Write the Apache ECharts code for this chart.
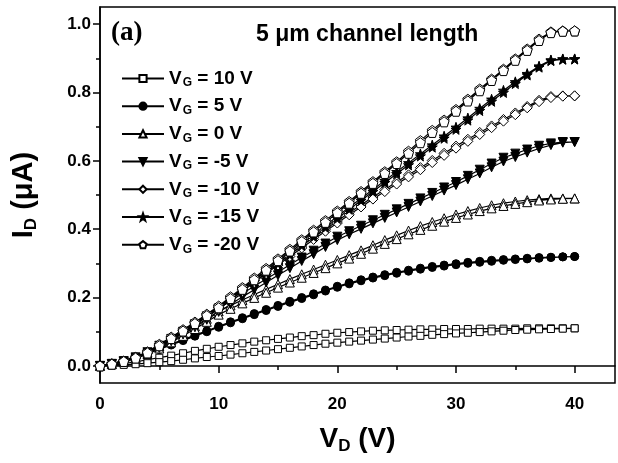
<!DOCTYPE html>
<html><head><meta charset="utf-8">
<script src="https://cdn.jsdelivr.net/npm/echarts@6/dist/echarts.min.js"></script>
<style>html,body{margin:0;padding:0;background:#fff}#c{width:618px;height:463px}</style>
</head><body><div id="c"></div>
<script>
// Drain voltage points (V)
const vd = [0,1,2,3,4,5,6,7,8,9,10,11,12,13,14,15,16,17,18,19,20,21,22,23,24,25,26,27,28,29,30,31,32,33,34,35,36,37,38,39,40];
const xMajor = [0,10,20,30,40];
const xMinor = [5,15,25,35];
const yMajor = [0,0.2,0.4,0.6,0.8,1.0];
const yMinor = [0.1,0.3,0.5,0.7,0.9];
const gateNames = ['10','5','0','-5','-10','-15','-20'];

// ID (uA), forward (a) and backward (b) sweeps for each gate voltage
const vg10_a = [0,0.003,0.007,0.012,0.018,0.024,0.03,0.037,0.044,0.05,0.056,0.061,0.066,0.071,0.075,0.079,0.083,0.087,0.09,0.094,0.097,0.099,0.101,0.103,0.104,0.105,0.106,0.107,0.107,0.108,0.108,0.108,0.109,0.109,0.109,0.109,0.11,0.11,0.11,0.11,0.11];
const vg10_b = [0,0.001,0.003,0.005,0.008,0.011,0.014,0.018,0.022,0.026,0.029,0.033,0.037,0.041,0.045,0.049,0.053,0.057,0.061,0.065,0.068,0.071,0.074,0.077,0.08,0.083,0.086,0.088,0.091,0.093,0.095,0.097,0.099,0.101,0.103,0.105,0.106,0.107,0.108,0.109,0.11];
const vg5_a = [0,0.007,0.016,0.027,0.039,0.051,0.064,0.077,0.09,0.103,0.116,0.129,0.141,0.153,0.165,0.177,0.189,0.2,0.211,0.222,0.233,0.243,0.252,0.26,0.267,0.274,0.28,0.286,0.291,0.295,0.299,0.303,0.306,0.309,0.311,0.313,0.315,0.317,0.318,0.319,0.32];
const vg5_b = [0,0.006,0.014,0.025,0.036,0.048,0.061,0.074,0.087,0.1,0.113,0.126,0.138,0.15,0.162,0.174,0.186,0.197,0.208,0.219,0.23,0.24,0.249,0.257,0.264,0.271,0.277,0.283,0.288,0.292,0.296,0.3,0.303,0.306,0.309,0.311,0.313,0.315,0.317,0.319,0.32];
const vg0_a = [0,0.006,0.014,0.025,0.039,0.057,0.076,0.096,0.116,0.138,0.16,0.177,0.193,0.209,0.224,0.239,0.254,0.268,0.282,0.296,0.31,0.324,0.338,0.353,0.368,0.382,0.396,0.409,0.421,0.432,0.443,0.453,0.462,0.47,0.476,0.481,0.485,0.488,0.49,0.49,0.49];
const vg0_b = [0,0.005,0.012,0.022,0.035,0.051,0.069,0.088,0.108,0.129,0.15,0.167,0.183,0.199,0.214,0.229,0.244,0.258,0.272,0.286,0.3,0.314,0.328,0.343,0.357,0.371,0.385,0.398,0.41,0.422,0.433,0.443,0.453,0.461,0.468,0.474,0.479,0.484,0.487,0.489,0.49];
const vgm5_a = [0,0.006,0.014,0.025,0.04,0.059,0.079,0.1,0.122,0.145,0.168,0.19,0.212,0.233,0.254,0.275,0.296,0.317,0.337,0.358,0.378,0.394,0.41,0.426,0.442,0.458,0.474,0.49,0.506,0.522,0.538,0.556,0.574,0.592,0.609,0.621,0.633,0.644,0.651,0.655,0.655];
const vgm5_b = [0,0.005,0.012,0.022,0.036,0.053,0.072,0.092,0.113,0.135,0.158,0.18,0.202,0.223,0.244,0.265,0.286,0.307,0.327,0.348,0.368,0.385,0.401,0.417,0.433,0.449,0.465,0.481,0.497,0.513,0.529,0.546,0.563,0.581,0.598,0.611,0.624,0.636,0.646,0.653,0.655];
const vgm10_a = [0,0.006,0.014,0.025,0.04,0.06,0.081,0.103,0.126,0.149,0.172,0.198,0.224,0.25,0.276,0.301,0.326,0.351,0.376,0.4,0.424,0.448,0.471,0.494,0.516,0.538,0.559,0.58,0.601,0.622,0.643,0.663,0.683,0.702,0.721,0.74,0.759,0.777,0.788,0.79,0.79];
const vgm10_b = [0,0.005,0.013,0.023,0.037,0.056,0.076,0.098,0.12,0.143,0.166,0.192,0.218,0.244,0.27,0.295,0.32,0.345,0.37,0.394,0.418,0.442,0.465,0.488,0.51,0.532,0.553,0.574,0.595,0.616,0.637,0.657,0.677,0.697,0.716,0.735,0.755,0.773,0.785,0.789,0.79];
const vgm15_a = [0,0.006,0.014,0.025,0.041,0.062,0.083,0.105,0.127,0.15,0.174,0.2,0.226,0.252,0.278,0.305,0.331,0.358,0.384,0.411,0.437,0.464,0.49,0.516,0.542,0.568,0.594,0.62,0.646,0.672,0.698,0.725,0.753,0.78,0.806,0.831,0.855,0.877,0.895,0.898,0.898];
const vgm15_b = [0,0.005,0.013,0.023,0.038,0.058,0.078,0.1,0.122,0.145,0.168,0.194,0.22,0.246,0.272,0.299,0.325,0.352,0.378,0.405,0.431,0.458,0.484,0.51,0.536,0.562,0.588,0.614,0.64,0.666,0.692,0.719,0.747,0.774,0.8,0.826,0.851,0.874,0.893,0.897,0.898];
const vgm20_a = [0,0.006,0.014,0.025,0.041,0.063,0.084,0.106,0.128,0.151,0.175,0.202,0.229,0.257,0.285,0.313,0.341,0.369,0.397,0.425,0.453,0.481,0.51,0.539,0.568,0.597,0.628,0.659,0.689,0.719,0.75,0.78,0.81,0.839,0.868,0.898,0.927,0.956,0.977,0.98,0.98];
const vgm20_b = [0,0.005,0.013,0.023,0.038,0.059,0.08,0.102,0.124,0.147,0.17,0.197,0.224,0.252,0.28,0.308,0.336,0.364,0.392,0.42,0.448,0.476,0.505,0.534,0.563,0.592,0.622,0.653,0.683,0.714,0.745,0.775,0.805,0.835,0.864,0.894,0.923,0.952,0.975,0.979,0.98];

const STAR = 'path://M0,-10L2.35,-3.24L9.51,-3.09L3.8,1.24L5.88,8.09L0,4L-5.88,8.09L-3.8,1.24L-9.51,-3.09L-2.35,-3.24Z';
const PENT = 'path://M0,-10L9.51,-3.09L5.88,8.09L-5.88,8.09L-9.51,-3.09Z';

function loop(a, b) {
  const f = a.map((y, i) => [vd[i], y]);
  const r = b.map((y, i) => [vd[i], y]).reverse();
  return f.concat(r);
}
function mk(name, a, b, symbol, size, filled, rotate) {
  return {
    name: name, type: 'line', data: loop(a, b),
    symbol: symbol, symbolSize: size, symbolRotate: rotate || 0,
    showSymbol: true, showAllSymbol: true, animation: false,
    lineStyle: { color: '#000', width: 1.2 },
    itemStyle: filled ? { color: '#000', borderColor: '#000', borderWidth: 1 }
                      : { color: '#fff', borderColor: '#000', borderWidth: 1 }
  };
}

const FONT = 'Liberation Sans';
const axisLineStyle = { color: '#000', width: 1.5 };
const chart = echarts.init(document.getElementById('c'), null, { renderer: 'canvas' });
chart.setOption({
  backgroundColor: '#fff',
  animation: false,
  grid: { left: 100, right: 3, top: 7, bottom: 80, show: true, borderColor: '#000', borderWidth: 1.5, backgroundColor: 'transparent' },
  title: [
    { text: '(a)', left: 106, top: 15, textStyle: { fontFamily: 'Liberation Serif', fontWeight: 'bold', fontSize: 27, color: '#000' } },
    { text: '5 \u03bcm channel length', left: 251, top: 18, textStyle: { fontFamily: FONT, fontWeight: 'bold', fontSize: 23, color: '#000' } }
  ],
  legend: {
    orient: 'vertical', left: 116, top: 63, itemWidth: 42, itemHeight: 9, itemGap: 6.7,
    data: gateNames,
    formatter: n => '{v|V}{s|G}{v| = ' + n + ' V}',
    textStyle: { color: '#000', fontFamily: FONT, fontWeight: 'bold', fontSize: 19,
      rich: { v: { fontFamily: FONT, fontWeight: 'bold', fontSize: 19, lineHeight: 20, color: '#000' },
              s: { fontFamily: FONT, fontWeight: 'bold', fontSize: 12, lineHeight: 12, color: '#000', padding: [9, 0, 0, 1] } } }
  },
  xAxis: [
    { type: 'value', min: 0, max: 43.4, position: 'bottom',
      axisLine: { show: true, lineStyle: axisLineStyle },
      axisTick: { show: true, length: 7, customValues: xMajor, lineStyle: axisLineStyle },
      axisLabel: { customValues: xMajor, color: '#000', fontFamily: FONT, fontWeight: 'bold', fontSize: 17, margin: 13 },
      splitLine: { show: false },
      name: 'V{s|D} (V)', nameLocation: 'middle', nameGap: 40,
      nameTextStyle: { color: '#000', fontFamily: FONT, fontWeight: 'bold', fontSize: 28,
        rich: { s: { fontFamily: FONT, fontWeight: 'bold', fontSize: 17, padding: [15, 0, 0, 0], color: '#000' } } } },
    { type: 'value', min: 0, max: 43.4, position: 'bottom',
      axisLine: { show: false }, axisLabel: { show: false }, splitLine: { show: false },
      axisTick: { show: true, length: 4, customValues: xMinor, lineStyle: axisLineStyle } }
  ],
  yAxis: [
    { type: 'value', min: -0.05, max: 1.05, position: 'left',
      axisLine: { show: true, lineStyle: axisLineStyle },
      axisTick: { show: true, length: 7, customValues: yMajor, lineStyle: axisLineStyle },
      axisLabel: { customValues: yMajor, formatter: v => v.toFixed(1), color: '#000', fontFamily: FONT, fontWeight: 'bold', fontSize: 17, margin: 9 },
      splitLine: { show: false },
      name: 'I{s|D} (\u03bcA)', nameLocation: 'middle', nameGap: 60, nameRotate: 90,
      nameTextStyle: { color: '#000', fontFamily: FONT, fontWeight: 'bold', fontSize: 29,
        rich: { s: { fontFamily: FONT, fontWeight: 'bold', fontSize: 17, padding: [15, 0, 0, 0], color: '#000' } } } },
    { type: 'value', min: -0.05, max: 1.05, position: 'left',
      axisLine: { show: false }, axisLabel: { show: false }, splitLine: { show: false },
      axisTick: { show: true, length: 4, customValues: yMinor, lineStyle: axisLineStyle } }
  ],
  series: [
    mk('10', vg10_a, vg10_b, 'rect', 7, false),
    mk('5', vg5_a, vg5_b, 'circle', 8, true),
    mk('0', vg0_a, vg0_b, 'triangle', 9, false),
    mk('-5', vgm5_a, vgm5_b, 'triangle', 9, true, 180),
    mk('-10', vgm10_a, vgm10_b, 'diamond', 10, false),
    mk('-15', vgm15_a, vgm15_b, STAR, 10, true),
    mk('-20', vgm20_a, vgm20_b, PENT, 10, false)
  ]
});
</script></body></html>
